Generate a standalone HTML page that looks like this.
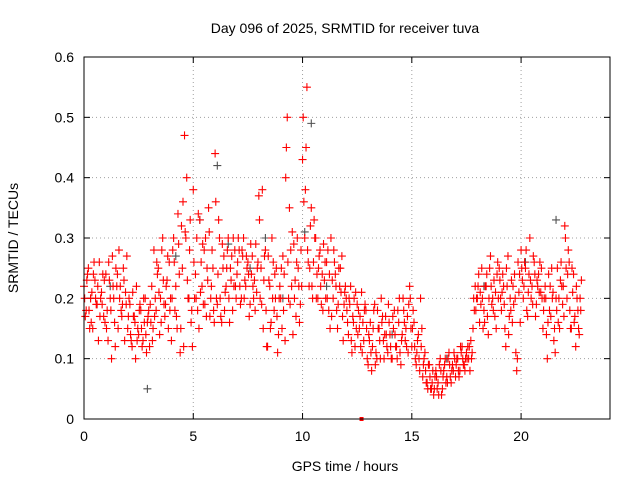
<!DOCTYPE html>
<html><head><meta charset="utf-8"><style>
body{margin:0;background:#fff;}
svg{display:block;font-family:"Liberation Sans",sans-serif;}
</style></head><body>
<svg id="chart" width="640" height="480">
<rect x="0" y="0" width="640" height="480" fill="#fff"/>
<text x="345" y="33" text-anchor="middle" font-size="14">Day 096 of 2025, SRMTID for receiver tuva</text>
<text x="345" y="471" text-anchor="middle" font-size="14">GPS time / hours</text>
<text transform="translate(18,238) rotate(-90)" text-anchor="middle" font-size="14">SRMTID / TECUs</text>
<g id="grid"></g>
<g id="ticks"></g>
<g id="marks"></g>
<rect x="84" y="57" width="526" height="362" fill="none" stroke="#000" stroke-width="1"/>
</svg>
<script>
const xTicks=[0,5,10,15,20];
const yTicks=[0,0.1,0.2,0.3,0.4,0.5,0.6];
const startTime=0, timeStep=0.1;
const seriesA=[.22,.18,.25,.2,.15,.23,.19,.26,.21,.17,
.24,.13,.2,.27,.16,.22,.28,.18,.25,.21,
.15,.19,.12,.17,.22,.14,.18,.13,.2,.16,
.12,.22,.28,.18,.25,.2,.3,.17,.23,.26,
.13,.3,.22,.34,.11,.25,.47,.4,.2,.16,
.38,.24,.18,.33,.22,.28,.17,.35,.2,.25,
.44,.19,.3,.16,.27,.22,.3,.25,.18,.28,
.24,.28,.2,.3,.22,.26,.19,.27,.23,.21,
.37,.25,.15,.28,.12,.22,.3,.18,.25,.14,
.2,.27,.13,.5,.35,.22,.29,.17,.25,.19,
.43,.3,.55,.22,.35,.26,.3,.2,.28,.24,
.23,.26,.18,.3,.2,.24,.15,.22,.27,.19,
.2,.14,.22,.17,.12,.19,.15,.21,.13,.18,
.09,.16,.12,.19,.1,.15,.2,.13,.17,.11,
.14,.1,.18,.12,.16,.09,.2,.13,.17,.22,
.12,.16,.09,.14,.2,.07,.11,.06,.09,.05,
.04,.08,.06,.1,.05,.09,.07,.11,.06,.08,
.07,.1,.08,.12,.09,.11,.1,.13,.15,.22,
.2,.16,.25,.18,.22,.14,.27,.2,.17,.24,
.25,.18,.22,.12,.27,.2,.16,.24,.08,.21,
.28,.2,.25,.17,.3,.22,.26,.19,.24,.21,
.15,.22,.1,.18,.25,.13,.2,.16,.23,.19,
.32,.2,.26,.15,.24,.12,.18,.2];
const seriesB=[.17,.24,.15,.21,.26,.19,.13,.2,.24,.16,
.18,.23,.1,.2,.25,.15,.22,.19,.13,.27,
.2,.13,.17,.1,.15,.19,.12,.16,.11,.18,
.16,.15,.2,.24,.14,.28,.19,.22,.15,.2,
.28,.18,.15,.24,.32,.12,.3,.2,.33,.12,
.2,.3,.15,.26,.19,.3,.23,.17,.28,.16,
.2,.33,.17,.25,.21,.28,.16,.27,.22,.2,
.3,.19,.27,.23,.25,.17,.24,.2,.29,.26,
.2,.38,.27,.12,.23,.16,.26,.2,.11,.22,
.15,.24,.45,.2,.28,.14,.23,.3,.16,.22,
.36,.45,.26,.32,.2,.3,.24,.27,.19,.29,
.2,.28,.15,.23,.26,.18,.25,.21,.13,.22,
.16,.19,.11,.2,.15,.18,.12,.16,.19,.1,
.13,.08,.18,.11,.15,.1,.17,.14,.12,.16,
.1,.15,.12,.18,.11,.14,.16,.12,.19,.15,
.18,.1,.13,.08,.15,.1,.06,.09,.05,.08,
.07,.05,.09,.04,.08,.06,.1,.07,.09,.1,
.1,.07,.11,.09,.1,.12,.08,.11,.18,.2,
.24,.19,.15,.22,.17,.25,.19,.23,.15,.2,
.2,.24,.15,.22,.17,.23,.19,.11,.26,.16,
.23,.26,.18,.24,.2,.27,.17,.22,.26,.2,
.2,.14,.24,.17,.21,.11,.25,.15,.22,.17,
.25,.28,.15,.21,.17,.2,.14,.23];
const seriesC=[.2,.23,.18,.16,.24,.2,.22,.17,.19,.23,
.15,.26,.18,.22,.12,.24,.2,.17,.23,.19,
.17,.14,.21,.16,.13,.18,.15,.2,.14,.17,
.19,.13,.17,.26,.21,.16,.23,.19,.27,.18,
.2,.26,.17,.29,.15,.36,.31,.23,.28,.18,
.26,.2,.34,.21,.29,.19,.25,.31,.22,.18,
.36,.24,.2,.29,.18,.25,.2,.23,.3,.22,
.26,.22,.28,.2,.27,.24,.29,.22,.18,.25,
.33,.19,.23,.18,.27,.15,.2,.24,.17,.2,
.25,.18,.4,.26,.19,.31,.2,.26,.22,.28,
.5,.38,.28,.25,.22,.33,.2,.25,.22,.18,
.26,.2,.24,.17,.28,.22,.19,.25,.17,.21,
.18,.2,.13,.16,.21,.14,.17,.11,.18,.15,
.14,.11,.15,.09,.18,.13,.16,.1,.14,.19,
.12,.17,.14,.1,.2,.13,.18,.15,.11,.2,
.15,.12,.11,.1,.12,.09,.08,.05,.07,.06,
.05,.07,.04,.08,.07,.1,.06,.09,.08,.11,
.09,.08,.12,.1,.08,.1,.12,.1,.2,.18,
.22,.21,.2,.16,.24,.2,.22,.18,.21,.26,
.23,.21,.19,.25,.14,.18,.22,.2,.1,.24,
.25,.22,.28,.21,.23,.19,.24,.23,.21,.25,
.18,.2,.16,.22,.2,.15,.18,.2,.26,.22,
.3,.24,.18,.25,.16,.22,.15,.18];
const darkTimes=[0.3,1.2,2.9,4.2,5.3,6.1,6.6,7.6,8.3,9.1,10.1,10.4,11.1,14.1,16.6,18.3,20.2,21.6];
const darkValues=[0.2,0.22,0.05,0.27,0.33,0.42,0.29,0.25,0.3,0.2,0.31,0.49,0.22,0.14,0.1,0.22,0.26,0.33];
const flagTimes=[12.7];
const flagValues=[0];

const X0=84,X1=608.5,Y0=419,Y1=57;
function xs(t){return X0+t*(X1-X0)/24;}
function ys(v){return Y0-v*(Y0-Y1)/0.6;}
const NS='http://www.w3.org/2000/svg';
const grid=document.getElementById('grid'),ticks=document.getElementById('ticks'),marks=document.getElementById('marks');
function mk(tag,attrs,parent){const e=document.createElementNS(NS,tag);for(const k in attrs)e.setAttribute(k,attrs[k]);parent.appendChild(e);return e;}
xTicks.forEach(t=>{
  const x=xs(t);
  if(t>0){const g=mk('line',{x1:x,y1:Y0,x2:x,y2:Y1,stroke:'#a0a0a0','stroke-dasharray':'1,3'},grid);
  
  }
  mk('line',{x1:x,y1:Y0,x2:x,y2:Y0-6,stroke:'#000'},ticks);
  mk('line',{x1:x,y1:Y1,x2:x,y2:Y1+6,stroke:'#000'},ticks);
  const l=mk('text',{x:x,y:Y0+22,'text-anchor':'middle','font-size':14},ticks);
  l.textContent=t;
  
  
});
yTicks.forEach(v=>{
  const y=ys(v);
  if(v>0&&v<0.6){const g=mk('line',{x1:X0,y1:y,x2:610,y2:y,stroke:'#a0a0a0','stroke-dasharray':'1,3'},grid);
  
  }
  mk('line',{x1:X0,y1:y,x2:X0+6,y2:y,stroke:'#000'},ticks);
  mk('line',{x1:610,y1:y,x2:604,y2:y,stroke:'#000'},ticks);
  const l=mk('text',{x:X0-10,y:y+5,'text-anchor':'end','font-size':14},ticks);
  l.textContent=v===0?'0':v.toFixed(1);
  
  
});
function plus(t,v,color,name){
  const x=xs(t),y=ys(v);
  const p=mk('path',{d:`M${x-4},${y}H${x+4}M${x},${y-4}V${y+4}`,stroke:color,'stroke-width':1.1},marks);
  
  
}
darkTimes.forEach((t,i)=>plus(t,darkValues[i],'#505050','dark-point'));
seriesA.forEach((v,i)=>plus(startTime+i*timeStep,v,'#ff0000','red-point'));
seriesC.forEach((v,i)=>plus(startTime+i*timeStep+0.03,v,'#ff0000','red-point'));
seriesB.forEach((v,i)=>plus(startTime+i*timeStep+0.06,v,'#ff0000','red-point'));
flagTimes.forEach((t,i)=>{
  const r=mk('rect',{x:xs(t)-2,y:ys(flagValues[i])-2,width:4,height:4,fill:'#ff0000'},marks);
  
  
});
</script>
</body></html>
